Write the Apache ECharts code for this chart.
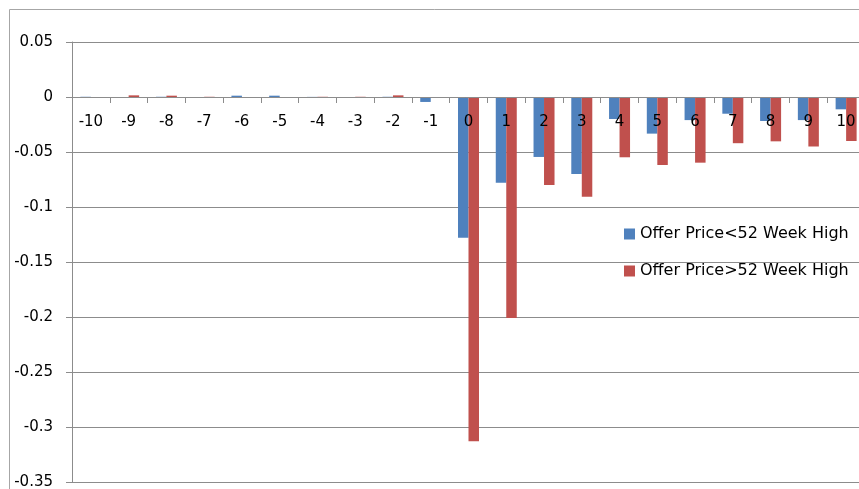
<!DOCTYPE html>
<html>
<head>
<meta charset="utf-8">
<style>
  html, body { margin: 0; padding: 0; background: #fff; }
  #chart { width: 859px; height: 489px; }
</style>
<script src="https://cdn.jsdelivr.net/npm/echarts@6/dist/echarts.min.js"></script>
</head>
<body>
<div id="chart"></div>
<script>
// Event-day categories
const days = ['-10','-9','-8','-7','-6','-5','-4','-3','-2','-1','0','1','2','3','4','5','6','7','8','9','10'];

// Average returns by event day
const belowHigh = [0.0002, -0.0004, 0.0002, -0.0004, 0.0012, 0.0012, 0.0001, -0.0003, 0.0002, -0.0045,
                   -0.128, -0.078, -0.0545, -0.070, -0.020, -0.0333, -0.021, -0.0152, -0.0218, -0.021, -0.0112];
const aboveHigh = [-0.0003, 0.0015, 0.0012, 0.0002, -0.0008, -0.0004, 0.0002, 0.0002, 0.0015, -0.0003,
                   -0.313, -0.201, -0.080, -0.0906, -0.0548, -0.0618, -0.0597, -0.042, -0.0403, -0.045, -0.040];

const seriesNames = ['Offer Price<52 Week High', 'Offer Price>52 Week High'];

const FONT = 'DejaVu Sans';
const GRAY = '#8c8c8c';

// value-axis range; the category axis sits on the zero line
const Y_MIN = -0.35, Y_MAX = 0.05, Y_STEP = 0.05;
const GRID_TOP = 42, GRID_H = 440;
const zeroOffset = -GRID_H * (Y_MAX - 0) / (Y_MAX - Y_MIN);

const chart = echarts.init(document.getElementById('chart'), null, { renderer: 'canvas' });

chart.setOption({
  backgroundColor: '#fff',
  animation: false,
  textStyle: { fontFamily: FONT },
  graphic: [{
    type: 'rect',
    shape: { x: 9.5, y: 9.5, width: 900, height: 500 },
    style: { fill: 'none', stroke: '#a6a6a6', lineWidth: 1 },
    silent: true
  }],
  grid: { left: 72, top: GRID_TOP, width: 793, height: GRID_H, outerBoundsMode: 'none', containLabel: false },
  legend: {
    orient: 'vertical',
    left: 624,
    top: 226,
    padding: 0,
    itemWidth: 11,
    itemHeight: 11,
    itemGap: 21,
    icon: 'rect',
    textStyle: { fontFamily: FONT, fontSize: 16, color: '#000' },
    data: seriesNames
  },
  xAxis: {
    type: 'category',
    data: days,
    position: 'top',
    offset: zeroOffset,
    z: 5,
    axisLine: { onZero: false, lineStyle: { color: GRAY, width: 1 } },
    axisTick: { show: true, inside: true, length: 6, alignWithLabel: false, lineStyle: { color: GRAY } },
    axisLabel: { inside: true, fontFamily: FONT, fontSize: 15, color: '#000', margin: 18, interval: 0 },
    splitLine: { show: false }
  },
  yAxis: {
    type: 'value',
    min: Y_MIN,
    max: Y_MAX,
    interval: Y_STEP,
    axisLine: { show: true, lineStyle: { color: GRAY, width: 1 } },
    axisTick: { show: true, length: 6, lineStyle: { color: GRAY } },
    axisLabel: {
      fontFamily: FONT, fontSize: 15, color: '#000', margin: 19,
      formatter: v => String(parseFloat(v.toFixed(2)))
    },
    splitLine: { show: true, lineStyle: { color: GRAY, width: 1 } }
  },
  series: [
    {
      name: seriesNames[0],
      type: 'bar',
      data: belowHigh,
      barWidth: 10.5,
      barGap: '0%',
      itemStyle: { color: '#4F81BD' }
    },
    {
      name: seriesNames[1],
      type: 'bar',
      data: aboveHigh,
      barWidth: 10.5,
      barGap: '0%',
      itemStyle: { color: '#C0504D' }
    }
  ]
});
</script>
</body>
</html>
